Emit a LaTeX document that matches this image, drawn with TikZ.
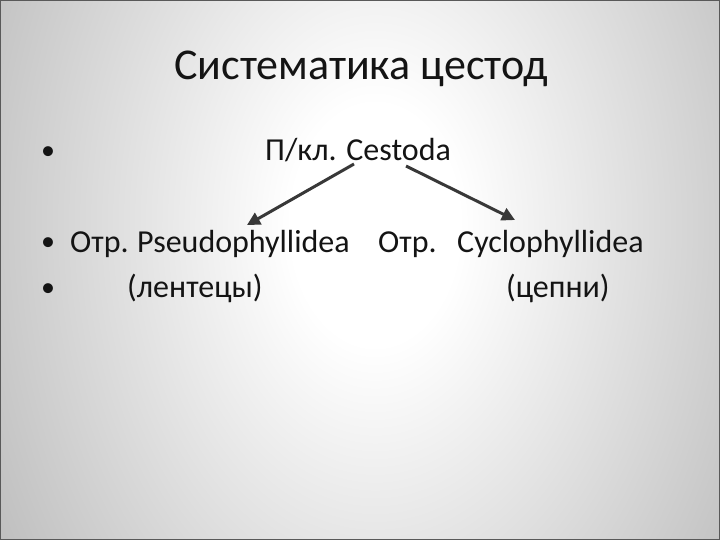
\documentclass[tikz,border=0pt]{standalone}
\usepackage{fontspec}
\setmainfont{Carlito}
\usetikzlibrary{arrows.meta}
\pgfdeclareradialshading{bgshade}{\pgfpoint{0bp}{0bp}}{color(0bp)=(white); color(3bp)=(white); color(9bp)=(black!12); color(15bp)=(black!24); color(22bp)=(black!38); color(27bp)=(black!43); color(50bp)=(black!45)}
\tikzset{
  txt/.style={anchor=base west, inner sep=0pt, text=black!92, font=\fontsize{32}{36}\selectfont},
  bul/.style={anchor=base, inner sep=0pt, text=black!92, font=\fontsize{28}{32}\selectfont},
  ttl/.style={anchor=base, inner sep=0pt, text=black!92, font=\fontsize{44}{50}\selectfont},
  arr/.style={draw=black!78, line width=3pt, -{Triangle[length=13pt,width=13pt]}}
}
\begin{document}
\begin{tikzpicture}[x=1pt,y=-1pt]
\useasboundingbox (0,0) rectangle (720,540);
\begin{scope}
\clip (0,0) rectangle (720,540);
\shade[shading=bgshade] (375,225) ellipse (700 and 1000);
\end{scope}
\draw[black!65, line width=1.2pt] (0.6,0.6) rectangle (719.4,539.4);
\node[ttl] (title) at (361,80) {Систематика цестод};
\node[bul] (b1) at (48,160) {•};
\node[txt] (cls) at (265,161) {П/кл. Cestoda};
\node[bul] (b2) at (48,251) {•};
\node[txt] (otr1) at (70,252) {Отр.};
\node[txt] (pseudo) at (137,252) {Pseudophyllidea};
\node[txt] (otr2) at (378,252) {Отр.};
\node[txt] (cyclo) at (457,252) {Cyclophyllidea};
\node[bul] (b3) at (48,296) {•};
\node[txt] (lent) at (127,297) {(лентецы)};
\node[txt] (cep) at (506,297) {(цепни)};
\coordinate (a1s) at (354,164);
\coordinate (a1e) at (247,225);
\coordinate (a2s) at (406,166);
\coordinate (a2e) at (515,220);
\draw[arr] (a1s) -- (a1e);
\draw[arr] (a2s) -- (a2e);
\end{tikzpicture}
\end{document}
